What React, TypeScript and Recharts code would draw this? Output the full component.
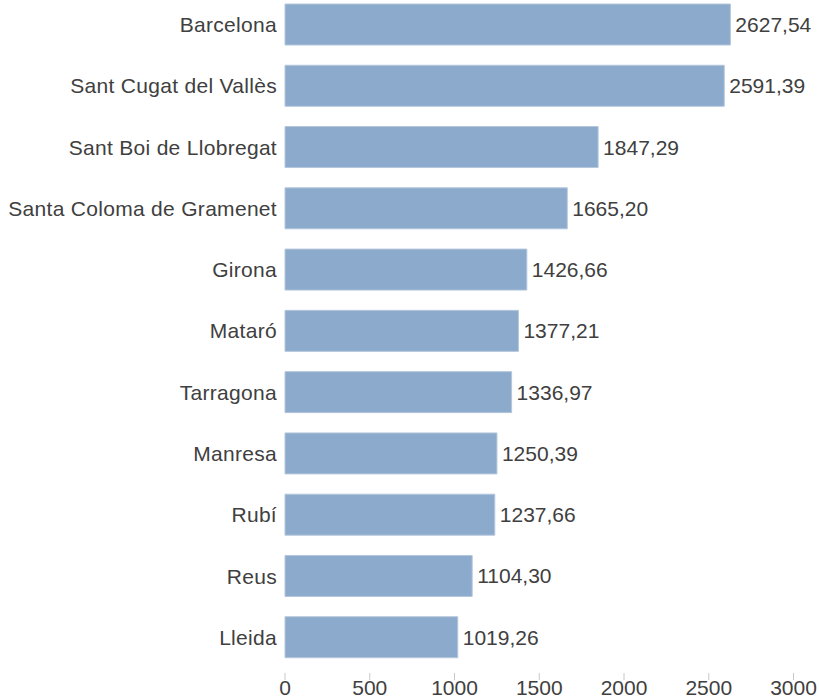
import { BarChart, Bar, XAxis, YAxis, LabelList } from 'recharts'

const cities = ['Barcelona', 'Sant Cugat del Vallès', 'Sant Boi de Llobregat', 'Santa Coloma de Gramenet', 'Girona', 'Mataró', 'Tarragona', 'Manresa', 'Rubí', 'Reus', 'Lleida']
const values = [2627.54, 2591.39, 1847.29, 1665.2, 1426.66, 1377.21, 1336.97, 1250.39, 1237.66, 1104.3, 1019.26]
const xTicks = [0, 500, 1000, 1500, 2000, 2500, 3000]

const data = cities.map((city, i) => ({ city, value: values[i] }))

const FONT = '"Liberation Sans", Arial, sans-serif'
const INK = '#404040'
const BAR = '#8caacb'

const fmt = (v: number) => v.toFixed(2).replace('.', ',')

// small tick mark sitting just above each value label
function XTick(props: any) {
  const { x, y, payload } = props
  return (
    <g>
      <line x1={x} x2={x} y1={y + 5} y2={y + 12} stroke="#c8c8c8" />
      <text x={x} y={y + 12} dy="0.71em" textAnchor="middle" fontFamily={FONT} fontSize={21} fill={INK}>
        {payload.value}
      </text>
    </g>
  )
}

export default function App() {
  return (
    <div style={{ position: 'absolute', left: 0, top: -6, width: 819, height: 705 }}>
      <BarChart width={819} height={705} data={data} layout="vertical" margin={{ top: 0, right: 25.5, bottom: 0, left: 0 }}>
        <XAxis
          type="number"
          domain={[0, 3000]}
          ticks={xTicks}
          height={31}
          tick={<XTick />}
          axisLine={false}
          tickLine={false}
          tickSize={0}
          tickMargin={0}
        />
        <YAxis
          type="category"
          dataKey="city"
          width={285}
          tick={{ fontFamily: FONT, fontSize: 21, fill: INK, letterSpacing: 0.3 }}
          axisLine={false}
          tickLine={false}
          interval={0}
        />
        <Bar dataKey="value" fill={BAR} stroke="#b4c7dc" strokeWidth={1} barSize={41} isAnimationActive={false}>
          <LabelList dataKey="value" position="right" offset={5} formatter={(v: number) => fmt(v)} style={{ fontFamily: FONT, fontSize: 21, fill: INK }} />
        </Bar>
      </BarChart>
    </div>
  )
}
